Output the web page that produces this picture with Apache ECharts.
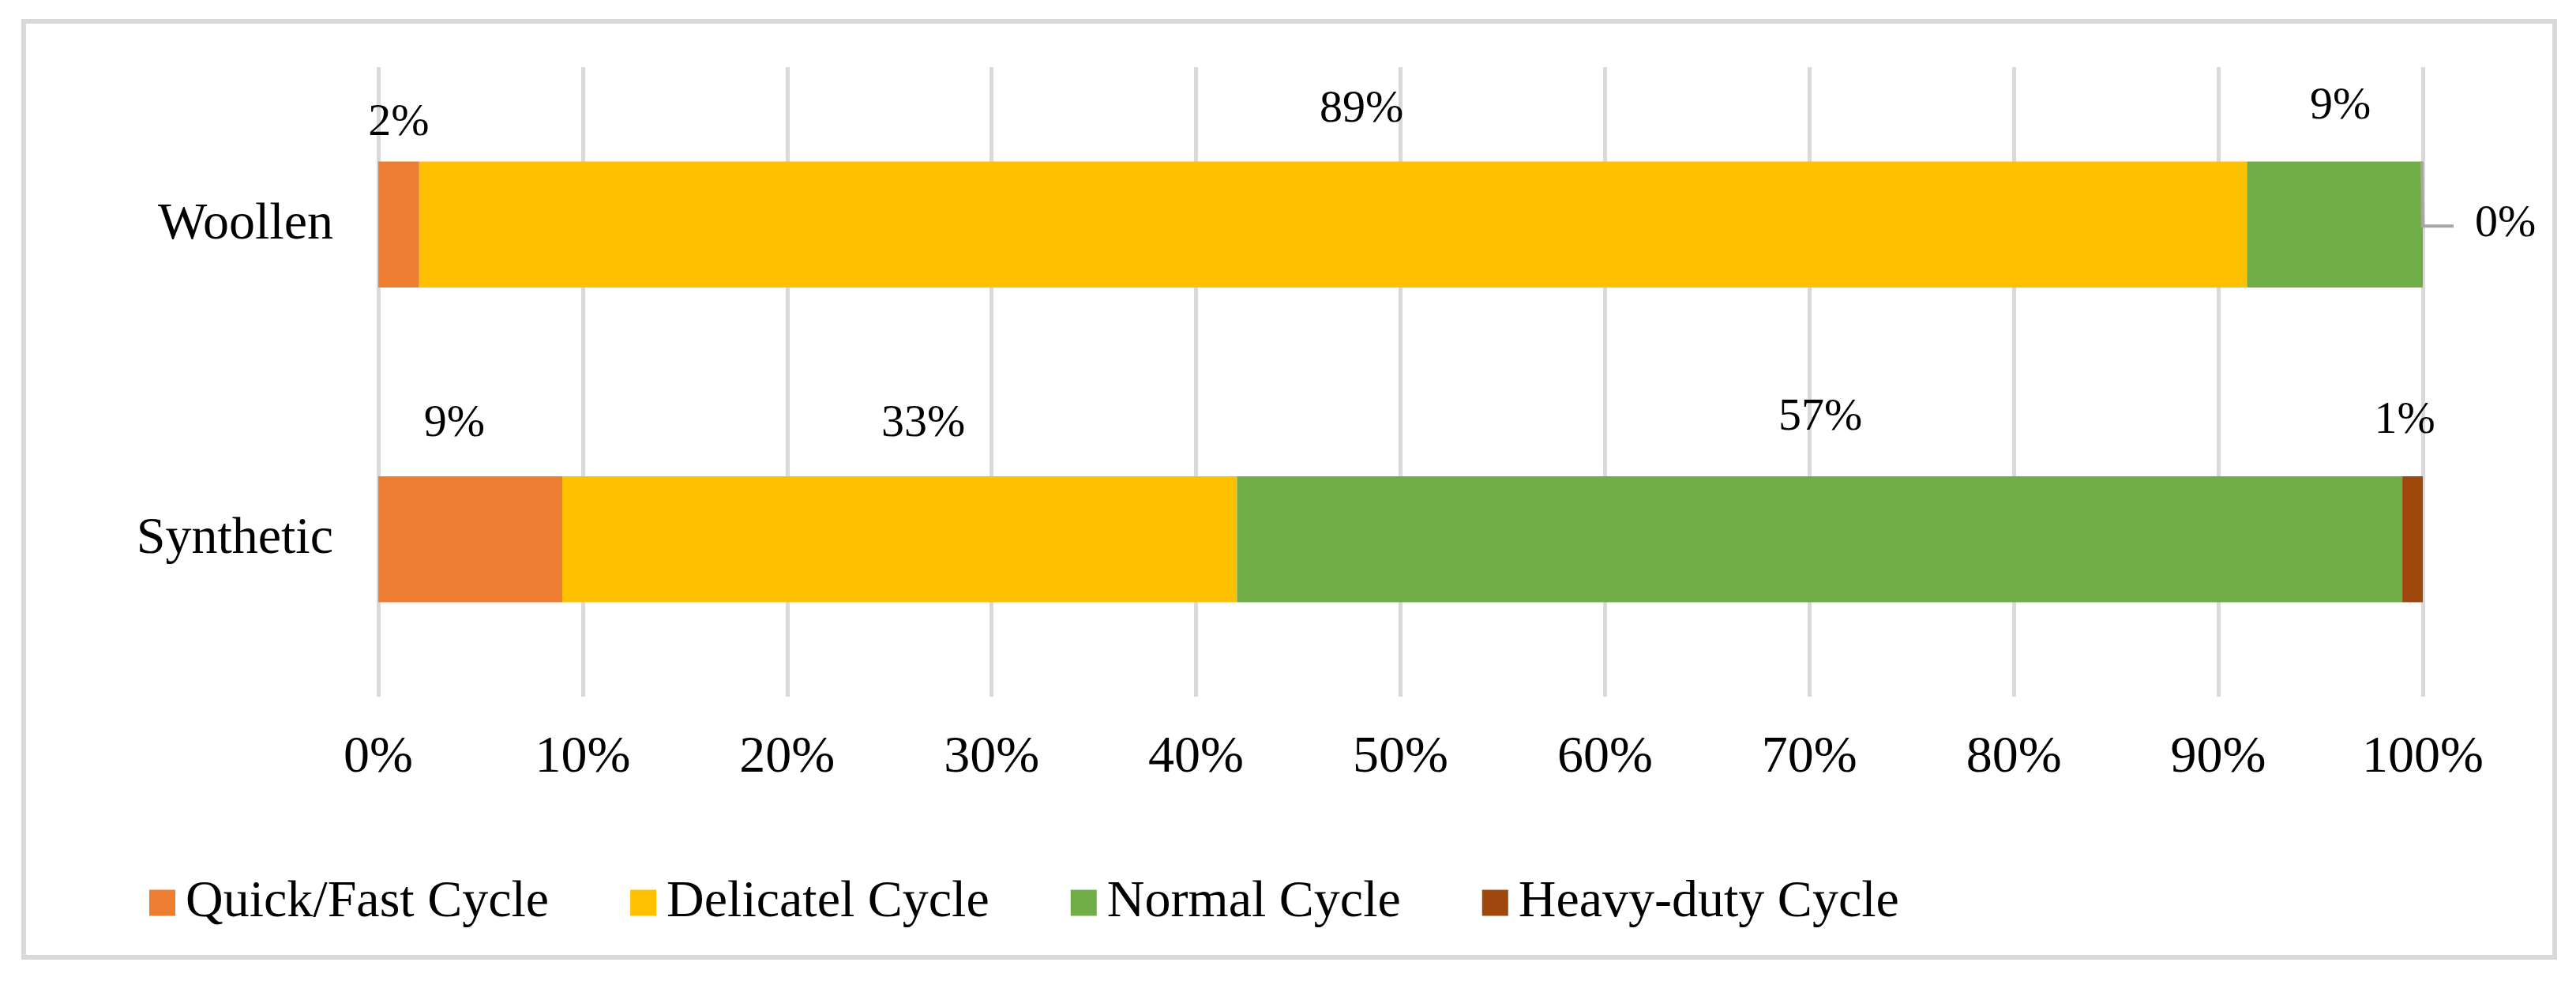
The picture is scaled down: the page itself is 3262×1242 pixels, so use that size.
<!DOCTYPE html>
<html>
<head>
<meta charset="utf-8">
<script src="https://cdn.jsdelivr.net/npm/echarts@6/dist/echarts.min.js"></script>
<style>
html,body{margin:0;padding:0;background:#ffffff;}
#chart{width:3262px;height:1242px;}
</style>
</head>
<body>
<div id="chart"></div>
<script>
// ---- data ----
const categories = ['Woollen', 'Synthetic'];
const seriesNames = ['Quick/Fast Cycle', 'Delicatel Cycle', 'Normal Cycle', 'Heavy-duty Cycle'];
const quickFast = [2.0, 9.0];
const delicatel = [89.4, 33.0];
const normal = [8.6, 57.0];
const heavyDuty = [0.0, 1.0];
const xAxisMin = 0, xAxisMax = 100, xAxisStep = 10;

// ---- style ----
const FONT = 'Liberation Serif';
const colors = ['#ED7D31', '#FFC000', '#70AD47', '#9E480E'];
const seriesValues = [quickFast, delicatel, normal, heavyDuty];
// small hand-placed label nudges [dx, dy] per series / category (as in the source figure)
const labelNudges = [
  [[0, 17], [-20, 0]],
  [[36, 0], [30, 0]],
  [[7, -4], [1, -8]],
  [[0, 0], [-10, -4]]
];

function buildSeries(name, values, color, nudges) {
  return {
    name: name,
    type: 'bar',
    stack: 'total',
    barWidth: '40%',
    itemStyle: { color: color },
    emphasis: { disabled: true },
    z: 2,
    label: {
      show: true,
      position: 'top',
      distance: 37,
      fontFamily: FONT,
      fontSize: 58,
      color: '#000000',
      formatter: function (p) { return Math.round(p.value) + '%'; }
    },
    data: values.map(function (v, i) {
      if (v === 0) {
        return { value: v, label: { position: 'right', distance: 66 } };
      }
      return { value: v, label: { offset: nudges[i] } };
    })
  };
}

// leader line for zero-size segments, positioned through the axes
const leaderData = [];
categories.forEach(function (c, i) {
  if (heavyDuty[i] === 0) {
    leaderData.push([quickFast[i] + delicatel[i] + normal[i] + heavyDuty[i], i]);
  }
});

const series = seriesNames.map(function (n, i) {
  return buildSeries(n, seriesValues[i], colors[i], labelNudges[i]);
});
series.push({
  type: 'custom',
  name: 'leader',
  silent: true,
  z: 5,
  encode: { x: 0, y: 1 },
  data: leaderData,
  renderItem: function (params, api) {
    const p = api.coord([api.value(0), api.value(1)]);
    const band = api.size([0, 1])[1];
    const top = p[1] - band * 0.2;
    return {
      type: 'polyline',
      shape: { points: [[p[0] - 1, top], [p[0], p[1] + 2], [p[0] + 39, p[1] + 2]] },
      style: { stroke: '#A6A6A6', lineWidth: 4, fill: null }
    };
  }
});

const chart = echarts.init(document.getElementById('chart'), null, { renderer: 'canvas' });
chart.setOption({
  animation: false,
  backgroundColor: '#ffffff',
  color: colors,
  textStyle: { fontFamily: FONT },
  graphic: [{
    type: 'rect',
    shape: { x: 30, y: 27, width: 3205, height: 1185 },
    style: { fill: 'none', stroke: '#D9D9D9', lineWidth: 6 },
    silent: true,
    z: -1
  }],
  grid: { left: 479, right: 194, top: 85, bottom: 360, containLabel: false },
  legend: {
    data: seriesNames,
    left: 184,
    top: 1105,
    itemWidth: 33,
    itemHeight: 33,
    itemGap: 103,
    icon: 'rect',
    textStyle: { fontFamily: FONT, fontSize: 66, color: '#000000', padding: [0, 0, 0, 8] },
    selectedMode: false
  },
  xAxis: {
    type: 'value',
    min: xAxisMin,
    max: xAxisMax,
    interval: xAxisStep,
    axisLine: { show: false },
    axisTick: { show: false },
    axisLabel: { fontFamily: FONT, fontSize: 66, color: '#000000', margin: 45, formatter: '{value}%' },
    splitLine: { show: true, lineStyle: { color: '#D9D9D9', width: 5 } }
  },
  yAxis: {
    type: 'category',
    inverse: true,
    data: categories,
    axisLine: { show: false },
    axisTick: { show: false },
    axisLabel: { fontFamily: FONT, fontSize: 66, color: '#000000', margin: 57 },
    splitLine: { show: false }
  },
  series: series
});
</script>
</body>
</html>
